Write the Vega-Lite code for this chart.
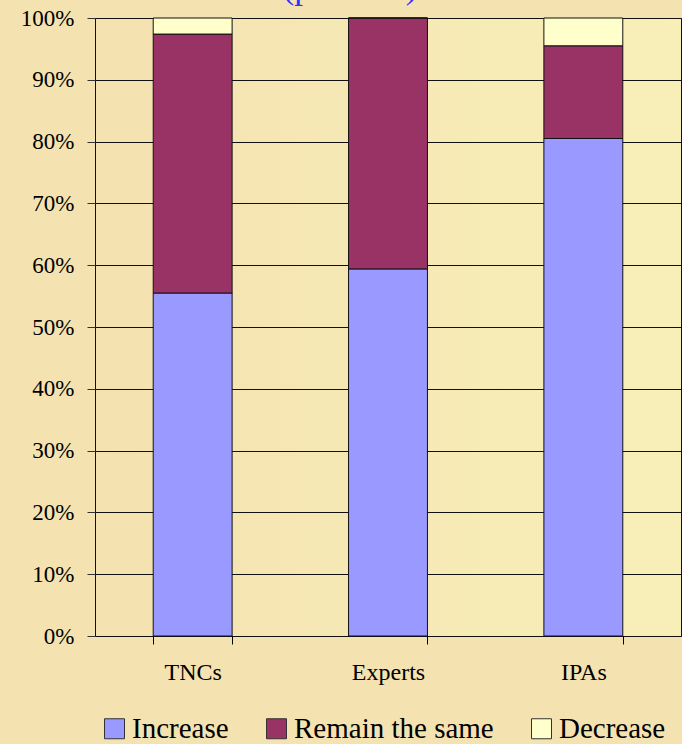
{
  "$schema": "https://vega.github.io/schema/vega-lite/v6.json",
  "width": 586,
  "height": 618,
  "autosize": {"type": "none"},
  "padding": {"left": 95, "top": 18, "right": 1, "bottom": 108},
  "background": "#F4E3B0",
  "title": {
    "text": "(per cent)",
    "font": "'Liberation Serif', 'DejaVu Serif', serif",
    "fontSize": 35,
    "fontWeight": "normal",
    "color": "#3333FF",
    "anchor": "middle",
    "frame": "group",
    "baseline": "alphabetic",
    "offset": -26,
    "dx": -38
  },
  "data": {
    "values": [
      {"group": "TNCs", "response": "Increase", "rank": 1, "value": 55.5},
      {"group": "TNCs", "response": "Remain the same", "rank": 2, "value": 41.9},
      {"group": "TNCs", "response": "Decrease", "rank": 3, "value": 2.6},
      {"group": "Experts", "response": "Increase", "rank": 1, "value": 59.4},
      {"group": "Experts", "response": "Remain the same", "rank": 2, "value": 40.6},
      {"group": "Experts", "response": "Decrease", "rank": 3, "value": 0},
      {"group": "IPAs", "response": "Increase", "rank": 1, "value": 80.5},
      {"group": "IPAs", "response": "Remain the same", "rank": 2, "value": 15.0},
      {"group": "IPAs", "response": "Decrease", "rank": 3, "value": 4.5}
    ]
  },
  "mark": {"type": "bar", "stroke": "#111111", "strokeWidth": 1, "opacity": 1},
  "encoding": {
    "x": {
      "field": "group",
      "type": "nominal",
      "sort": ["TNCs", "Experts", "IPAs"],
      "scale": {"paddingInner": 0.596, "paddingOuter": 0.298},
      "axis": {
        "title": null,
        "labelAngle": 0,
        "labelFont": "'Liberation Serif', 'DejaVu Serif', serif",
        "labelFontSize": 24,
        "labelColor": "#000000",
        "labelPadding": 16,
        "tickBand": "extent",
        "tickSize": 8,
        "tickColor": "#000000",
        "domain": false,
        "grid": false
      }
    },
    "y": {
      "field": "value",
      "type": "quantitative",
      "stack": "zero",
      "scale": {"domain": [0, 100], "nice": false},
      "axis": {
        "title": null,
        "values": [0, 10, 20, 30, 40, 50, 60, 70, 80, 90, 100],
        "labelExpr": "datum.value + '%'",
        "labelFont": "'Liberation Serif', 'DejaVu Serif', serif",
        "labelFontSize": 23,
        "labelColor": "#000000",
        "labelPadding": 13,
        "tickSize": 8,
        "tickColor": "#333333",
        "domain": false,
        "grid": true,
        "gridColor": "#111111",
        "gridWidth": 1,
        "gridOpacity": 1
      }
    },
    "color": {
      "field": "response",
      "type": "nominal",
      "sort": ["Increase", "Remain the same", "Decrease"],
      "scale": {
        "domain": ["Increase", "Remain the same", "Decrease"],
        "range": ["#9999FF", "#993366", "#FFFFCC"]
      },
      "legend": {
        "title": null,
        "orient": "none",
        "direction": "horizontal",
        "legendX": 5,
        "legendY": 696,
        "padding": 0,
        "symbolType": "square",
        "symbolSize": 400,
        "symbolStrokeColor": "#333333",
        "symbolStrokeWidth": 1,
        "symbolOpacity": 1,
        "labelFont": "'Liberation Serif', 'DejaVu Serif', serif",
        "labelFontSize": 29,
        "labelColor": "#000000",
        "labelOffset": 3,
        "columnPadding": 33,
        "labelLimit": 400
      }
    },
    "order": {"field": "rank", "type": "quantitative"}
  },
  "config": {
    "view": {
      "stroke": "#111111",
      "strokeWidth": 1,
      "fill": {
        "gradient": "linear",
        "x1": 0, "y1": 0, "x2": 1, "y2": 0,
        "stops": [
          {"offset": 0, "color": "#F4E2B1"},
          {"offset": 1, "color": "#F8EFB8"}
        ]
      }
    }
  }
}
